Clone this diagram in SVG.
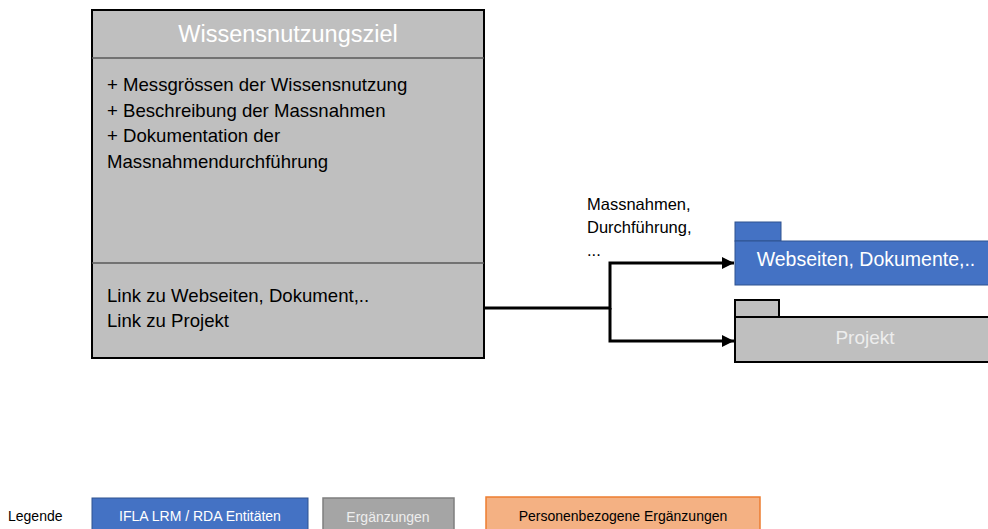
<svg xmlns="http://www.w3.org/2000/svg" width="988" height="529" viewBox="0 0 988 529">
<defs>
<style>
text{font-family:"Liberation Sans",Arial,sans-serif}
.body{font-size:18.6px;fill:#000}
.lbl{font-size:16.5px;fill:#000}
.conn{fill:none;stroke:#000;stroke-width:3}
.leg{font-size:14px}
</style>
<marker id="arr" viewBox="0 0 10 10" refX="10" refY="5" markerWidth="4" markerHeight="4" orient="auto" markerUnits="strokeWidth">
<path d="M0,0 L10,5 L0,10 z" fill="#000"/>
</marker>
</defs>
<rect width="988" height="529" fill="#fff"/>
<g id="wissensnutzungsziel">
<rect x="92" y="10" width="392" height="348" fill="#BFBFBF" stroke="#000" stroke-width="2"/>
<line x1="92" y1="58" x2="484" y2="58" stroke="#595959" stroke-width="1.5"/>
<line x1="92" y1="263" x2="484" y2="263" stroke="#595959" stroke-width="1.5"/>
<text x="288" y="42" text-anchor="middle" font-size="23.5" fill="#fff">Wissensnutzungsziel</text>
<text class="body" x="107" y="91">+ Messgrössen der Wissensnutzung</text>
<text class="body" x="107" y="117">+ Beschreibung der Massnahmen</text>
<text class="body" x="107" y="142">+ Dokumentation der</text>
<text class="body" x="107" y="168">Massnahmendurchführung</text>
<text class="body" x="107" y="302">Link zu Webseiten, Dokument,..</text>
<text class="body" x="107" y="327">Link zu Projekt</text>
</g>
<g id="connectors">
<polyline class="conn" points="484,308 610,308 610,263 734,263" marker-end="url(#arr)"/>
<polyline class="conn" points="610,308 610,341 734,341" marker-end="url(#arr)"/>
<text class="lbl" x="587" y="210">Massnahmen,</text>
<text class="lbl" x="587" y="233">Durchführung,</text>
<text class="lbl" x="587" y="256">...</text>
</g>
<g id="webseiten">
<rect x="735" y="222" width="46" height="19" fill="#4472C4" stroke="#2F528F" stroke-width="1"/>
<rect x="735" y="241" width="260" height="44" fill="#4472C4" stroke="#2F528F" stroke-width="1"/>
<text x="866" y="266" text-anchor="middle" font-size="19.5" fill="#fff">Webseiten, Dokumente,..</text>
</g>
<g id="projekt">
<rect x="735" y="300" width="44" height="17" fill="#BFBFBF" stroke="#000" stroke-width="2"/>
<rect x="735" y="317" width="260" height="45" fill="#BFBFBF" stroke="#000" stroke-width="2"/>
<text x="865" y="344" text-anchor="middle" font-size="19" fill="#EDEDED">Projekt</text>
</g>
<g id="legende">
<text class="leg" x="8" y="521" fill="#000">Legende</text>
<rect x="92" y="498" width="216" height="40" fill="#4472C4" stroke="#2F528F" stroke-width="1"/>
<text class="leg" x="200" y="521" text-anchor="middle" fill="#fff" font-size="15">IFLA LRM / RDA Entitäten</text>
<rect x="323" y="498" width="131" height="40" fill="#A5A5A5" stroke="#7F7F7F" stroke-width="1.5"/>
<text class="leg" x="388" y="522" text-anchor="middle" fill="#EDEDED">Ergänzungen</text>
<rect x="486" y="497" width="274" height="40" fill="#F4B183" stroke="#ED7D31" stroke-width="1.5"/>
<text class="leg" x="623" y="521" text-anchor="middle" fill="#000" font-size="13.5">Personenbezogene Ergänzungen</text>
</g>
</svg>
